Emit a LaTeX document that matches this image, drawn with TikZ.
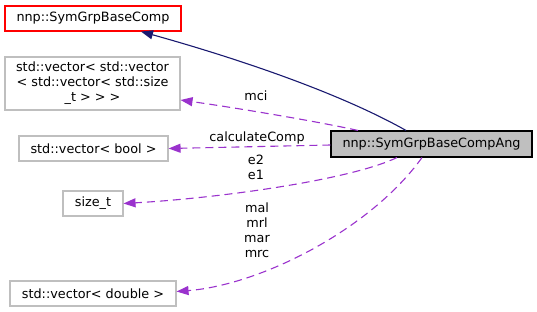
\documentclass[tikz,border=0pt]{standalone}
\usepackage{fontspec}
\setmainfont{DejaVu Sans}
\usetikzlibrary{arrows.meta}
\definecolor{edgeblue}{HTML}{191970}
\definecolor{edgeorchid}{HTML}{9A32CD}
\definecolor{boxgrey}{HTML}{BFBFBF}
\begin{document}
\begin{tikzpicture}[x=1pt,y=-1pt,
  font=\fontsize{12.8}{15}\selectfont,
  classbox/.style={draw=boxgrey,line width=1.1pt,fill=white,inner sep=0pt,align=center},
  basebox/.style={classbox,draw=red},
  mainbox/.style={classbox,draw=black,fill=boxgrey},
  inherit/.style={draw=edgeblue,line width=1.1pt,-{Triangle[length=12pt,width=9pt]}},
  member/.style={draw=edgeorchid,line width=1.1pt,dash pattern=on 8pt off 5pt,
    -{Triangle[length=12pt,width=9pt]}},
  edgelabel/.style={inner sep=0pt,align=center}]
\useasboundingbox (0,0) rectangle (537,312);

% class boxes
\node[basebox,minimum width=176pt,minimum height=25pt] (base) at (93,18.5) {nnp::SymGrpBaseComp};
\node[classbox,minimum width=175pt,minimum height=53pt] (vvv) at (92.5,83.5)
  {std::vector\textless{} std::vector\\\textless{} std::vector\textless{} std::size\\\_t \textgreater{} \textgreater{} \textgreater};
\node[classbox,minimum width=149pt,minimum height=25pt] (vbool) at (93.5,148.5) {std::vector\textless{} bool \textgreater};
\node[classbox,minimum width=60pt,minimum height=25pt] (sizet) at (93,203.5) {size\_t};
\node[classbox,minimum width=166pt,minimum height=25pt] (vdouble) at (93,293.5) {std::vector\textless{} double \textgreater};
\node[mainbox,minimum width=201pt,minimum height=26pt] (main) at (431.5,144) {nnp::SymGrpBaseCompAng};

% inheritance
\draw[inherit] ([xshift=-25.5pt]main.north) .. controls (345,96) and (250,62) .. ([xshift=48pt]base.south);

% members
\draw[member] ([xshift=-73.5pt]main.north) .. controls (310,120) and (230,107) .. ([yshift=-16.5pt]vvv.east);
\draw[member] ([yshift=-1pt]main.west) -- (vbool.east);
\draw[member] ([xshift=-34.5pt]main.south) .. controls (350,180) and (220,198) .. (sizet.east);
\draw[member] ([xshift=-9.5pt]main.south) .. controls (370,230) and (260,285) .. ([yshift=2pt]vdouble.east);

% member names
\node[edgelabel] (lmci) at (256,96) {mci};
\node[edgelabel] (lcalc) at (257,138) {calculateComp};
\node[edgelabel] (le) at (256,167) {e2\\e1};
\node[edgelabel] (lm) at (257,230.5) {mal\\mrl\\mar\\mrc};
\end{tikzpicture}
\end{document}
